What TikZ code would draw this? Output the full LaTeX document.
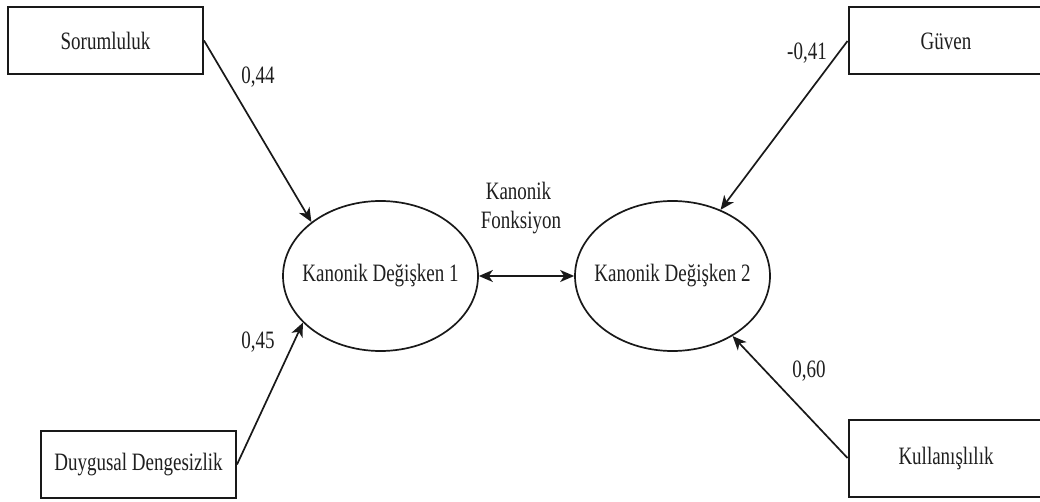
\documentclass[tikz,border=0pt]{standalone}
\usepackage{fontspec}
\setmainfont[FakeStretch=0.76]{Liberation Serif}
\usetikzlibrary{arrows.meta,shapes.geometric}

\tikzset{
  txt/.style={text=black!88, font=\fontsize{25}{28}\selectfont},
  varbox/.style={draw=black!90, line width=2pt, rectangle, minimum width=195pt,
    minimum height=67pt, inner sep=0pt, txt},
  canon/.style={draw=black!90, line width=1.7pt, ellipse, minimum width=195pt,
    minimum height=150pt, inner sep=0pt},
  weight/.style={txt, inner sep=0pt},
  >={Stealth[length=14pt,width=12pt,inset=4pt]},
  link/.style={line width=1.7pt, draw=black!90, ->},
  both/.style={line width=1.7pt, draw=black!90, <->}
}

\begin{document}
\begin{tikzpicture}[x=1pt,y=-1pt]
  \useasboundingbox (0,0) rectangle (1040,502);
  \clip (0,0) rectangle (1040,502);
  \fill[white] (0,0) rectangle (1040,502);

  % observed variables
  \node[varbox] (sor) at (105.5,40.5) {Sorumluluk};
  \node[varbox] (duy) at (138.5,464.5) {Duygusal Dengesizlik};
  \node[varbox] (guv) at (946,41) {Güven};
  \node[varbox, minimum height=77pt] (kul) at (946,458) {Kullanışlılık};

  % canonical variates (outline fixed in size, name set on top)
  \node[canon] (k1) at (380.5,276) {};
  \node[weight] (k1t) at (k1.center) {Kanonik Değişken 1};
  \node[canon] (k2) at (672.5,276) {};
  \node[weight] (k2t) at (k2.center) {Kanonik Değişken 2};

  % loadings
  \draw[link] (sor.east) -- (k1.142);
  \draw[link] (duy.east) -- (k1.211);
  \draw[link] (guv.west) -- (k2.54);
  \draw[link] (kul.west) -- (k2.-45);

  % canonical function
  \draw[both] (k1.east) -- (k2.west);

  % labels
  \node[weight] (w1) at (258,77) {0,44};
  \node[weight] (w2) at (258,342) {0,45};
  \node[weight] (w3) at (807,53) {-0,41};
  \node[weight] (w4) at (809,371) {0,60};
  \node[weight] (f1) at (518.5,191) {Kanonik};
  \node[weight] (f2) at (521,223) {Fonksiyon};
\end{tikzpicture}
\end{document}
